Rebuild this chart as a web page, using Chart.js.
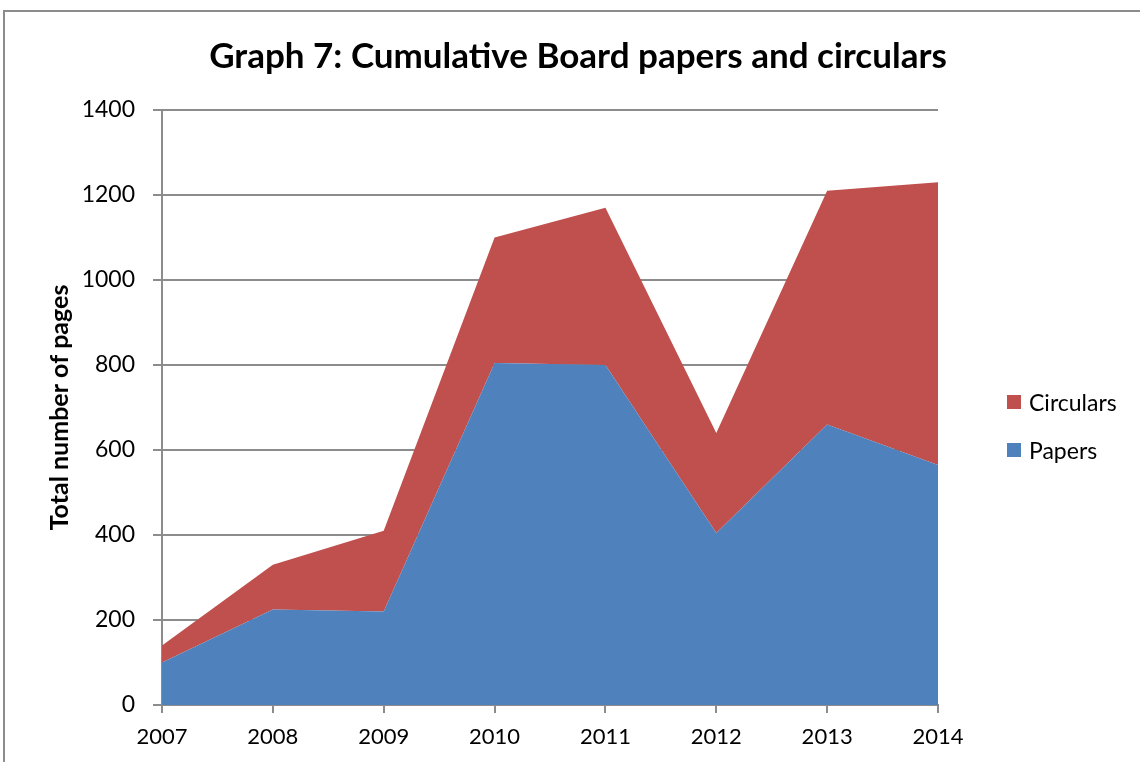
<!DOCTYPE html>
<html>
<head>
<meta charset="utf-8">
<script src="https://cdn.jsdelivr.net/npm/chart.js@4"></script>
<style>
    html, body { margin: 0; padding: 0; background: #fff; overflow: hidden; }
    #frame {
        position: absolute; left: 3px; top: 10px; width: 1200px; height: 800px;
        border-left: 2px solid #8c8c8c; border-top: 2px solid #8c8c8c;
    }
    #wrap { position: absolute; left: 0; top: 0; width: 1140px; height: 762px; }
    .legend { position: absolute; left: 1007px; font-family: Lato, sans-serif; font-size: 23px; color: #000; }
    .legend-item { position: absolute; white-space: nowrap; height: 26px; line-height: 26px; }
    .legend-item .swatch { position: absolute; left: 0; top: 6px; width: 14px; height: 14px; }
    .legend-item .label { position: absolute; left: 22px; top: 0; }
</style>
</head>
<body>
<div id="frame"></div>
<div id="wrap"><canvas id="chart"></canvas></div>
<div class="legend" id="legend"></div>
<script>
// Chart data
const years = ['2007', '2008', '2009', '2010', '2011', '2012', '2013', '2014'];
const papers = [100, 225, 220, 805, 800, 405, 660, 565];
const circulars = [40, 105, 190, 295, 370, 235, 550, 665];
const yTicks = [0, 200, 400, 600, 800, 1000, 1200, 1400];

const blue = '#4F81BD';
const red = '#C0504D';
const gridColor = '#8c8c8c';

Chart.defaults.font.family = 'Lato, sans-serif';
Chart.defaults.color = '#000';

// Empty box on the right so the plot leaves room for the legend,
// while the title still centres over the whole picture
const rightSpace = {
    id: 'rightSpace',
    beforeInit(chart) {
        Chart.layouts.addBox(chart, {
            position: 'right',
            weight: 100,
            fullSize: false,
            options: {},
            left: 0, top: 0, right: 0, bottom: 0, width: 0, height: 0,
            isHorizontal: () => false,
            update(maxWidth, maxHeight) {
                this.width = 202;
                this.height = maxHeight;
            },
            getPadding: () => ({ left: 0, top: 0, right: 0, bottom: 0 }),
            draw() {}
        });
    }
};

const datasets = [
    {
        label: 'Papers',
        data: papers,
        backgroundColor: blue,
        borderColor: blue,
        borderWidth: 0,
        pointRadius: 0,
        tension: 0,
        fill: 'origin'
    },
    {
        label: 'Circulars',
        data: circulars,
        backgroundColor: red,
        borderColor: red,
        borderWidth: 0,
        pointRadius: 0,
        tension: 0,
        fill: '-1'
    }
];

const chart = new Chart(document.getElementById('chart'), {
    type: 'line',
    data: { labels: years, datasets: datasets },
    plugins: [rightSpace],
    options: {
        responsive: true,
        maintainAspectRatio: false,
        animation: false,
        layout: { padding: { left: 16, right: 0, top: 0, bottom: 10 } },
        plugins: {
            legend: { display: false },
            tooltip: { enabled: false },
            title: {
                display: true,
                text: 'Graph 7: Cumulative Board papers and circulars',
                color: '#000',
                font: { size: 35, weight: 'bold', lineHeight: 1.2 },
                padding: { top: 36, bottom: 32 }
            }
        },
        scales: {
            x: {
                offset: false,
                afterFit: scale => { scale.height = 47; },
                grid: { drawOnChartArea: false, drawTicks: true, tickLength: 8, color: gridColor, lineWidth: 2 },
                border: { color: gridColor, width: 2 },
                ticks: { font: { size: 22 }, padding: 11, color: '#000', maxRotation: 0 }
            },
            y: {
                stacked: true,
                min: 0,
                max: 1400,
                afterFit: scale => { scale.width = 146; },
                afterBuildTicks: scale => { scale.ticks = yTicks.map(v => ({ value: v })); },
                grid: { color: gridColor, lineWidth: 2, tickLength: 9 },
                border: { color: gridColor, width: 2 },
                ticks: { font: { size: 23 }, padding: 18, color: '#000', callback: v => String(v) },
                title: {
                    display: true,
                    text: 'Total number of pages',
                    color: '#000',
                    font: { size: 25, weight: 'bold', lineHeight: 1.2 },
                    padding: { top: 29, bottom: 0 }
                }
            }
        }
    }
});

// Legend on the right, Circulars listed first
function buildLegend() {
    const items = [
        { label: 'Circulars', color: red, top: 389 },
        { label: 'Papers', color: blue, top: 437 }
    ];
    document.getElementById('legend').innerHTML = items.map(item => `
        <div class="legend-item" style="top:${item.top}px">
            <span class="swatch" style="background:${item.color}"></span>
            <span class="label">${item.label}</span>
        </div>
    `).join('');
}

buildLegend();
</script>
</body>
</html>
